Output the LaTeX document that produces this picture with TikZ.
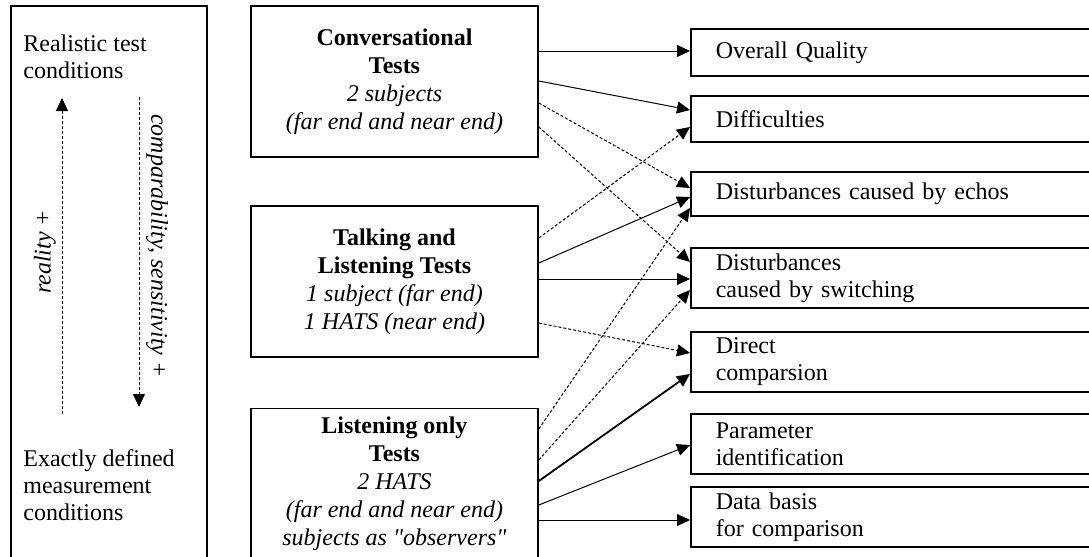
\documentclass[tikz,border=0pt]{standalone}
\usepackage{fontspec}
\setmainfont{Liberation Serif}[Ligatures=TeXOff]
\usetikzlibrary{arrows.meta}

\newcommand{\corpo}{\fontsize{12}{13.5}\selectfont}

\tikzset{
  riquadro/.style={draw, line width=0.8pt, rectangle, inner sep=0pt},
  test/.style={riquadro, minimum width=143.5pt, minimum height=75.5pt, align=center, font=\fontsize{12}{14}\selectfont},
  voce/.style={riquadro, anchor=west, minimum width=205pt, text width=180pt, inner xsep=12.5pt, align=left, font=\corpo},
  freccia/.style={line width=0.5pt, -{Triangle[length=6.5pt,width=6pt]}},
  tratteggio/.style={dash pattern=on 1.5pt off 1pt},
  spessa/.style={line width=0.9pt}
}

\begin{document}
\begin{tikzpicture}[x=0.5pt,y=-0.5pt]
            \useasboundingbox (0,0) rectangle (1089,557);

            % Scala a sinistra
            \node[riquadro, anchor=north west, minimum width=98pt, minimum height=290pt] (scala) at (10,5) {};
            \node[anchor=north west, align=left, inner sep=0pt, font=\corpo] (reale) at (23,34) {Realistic test\\conditions};
            \node[anchor=north west, align=left, inner sep=0pt, font=\corpo] (misura) at (23,449) {Exactly defined\\measurement\\conditions};
            \coordinate (su0) at (62,414);
            \coordinate (su1) at (62,98);
            \coordinate (giu0) at (139,97);
            \coordinate (giu1) at (139,407);
            \draw[freccia, tratteggio] (su0) -- (su1);
            \draw[freccia, tratteggio] (giu0) -- (giu1);
            \node[rotate=90, font=\corpo\itshape] (realta) at (45,252) {reality +};
            \node[rotate=-90, font=\corpo\itshape] (confronto) at (157,246) {comparability, sensitivity +};

            % Tipi di test
            \node[test] (t1) at (394.5,81.5) {\textbf{Conversational}\\\textbf{Tests}\\\textit{2 subjects}\\\textit{(far end and near end)}};
            \node[test] (t2) at (394.5,281.5) {\textbf{Talking and}\\\textbf{Listening Tests}\\\textit{1 subject (far end)}\\\textit{1 HATS (near end)}};
            \node[test] (t3) at (394.5,484) {\textbf{Listening only}\\\textbf{Tests}\\\textit{2 HATS}\\\textit{(far end and near end)}\\\textit{subjects as "observers"}};

            % Valutazioni
            \foreach \n/\y/\h/\testo in {1/52.5/23.5/{Overall Quality}, 2/119/23/{Difficulties}, 3/194/22/{Disturbances caused by echos}, 4/278/30/{Disturbances\\caused by switching}, 5/362/30/{Direct\\comparsion}, 6/444/30/{Parameter\\identification}, 7/517/30/{Data basis\\for comparison}} {
                    \node[voce, minimum height=\h pt] (v\n) at (690,\y) {\testo};
                }

            % Frecce
            \foreach \a/\ya/\b/\yb/\tipo in {t1/51/v1/51/solid, t1/81/v2/110/solid, t1/103/v3/188/tratteggio, t1/127/v4/262/tratteggio, t2/238/v2/127/tratteggio, t2/263/v3/197/solid, t2/279/v4/279/solid, t2/323/v5/353/tratteggio, t3/429/v3/208/tratteggio, t3/460/v4/290/tratteggio, t3/481/v5/374/spessa, t3/505/v6/445/solid, t3/520/v7/520/solid} {
                    \draw[freccia, \tipo] (\a.east |- 0,\ya) -- (\b.west |- 0,\yb);
                }
        \end{tikzpicture}
\end{document}
